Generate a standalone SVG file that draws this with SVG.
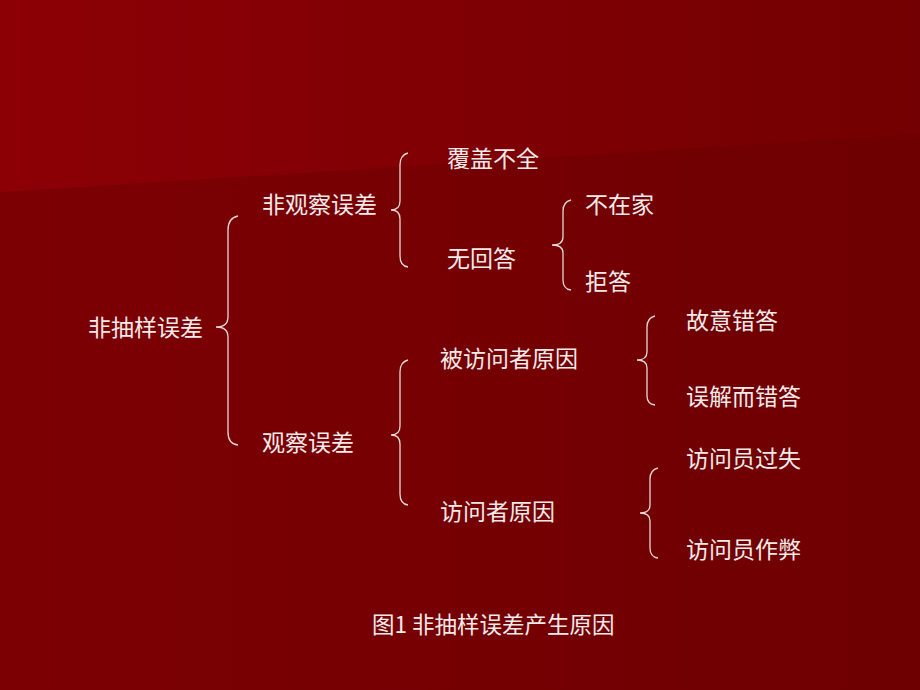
<svg xmlns="http://www.w3.org/2000/svg" width="920" height="690" viewBox="0 0 920 690">
<defs>
<linearGradient id="bg" x1="0" y1="0" x2="1" y2="0"><stop offset="0" stop-color="#7c0003"/><stop offset="1" stop-color="#6e0002"/></linearGradient>
<linearGradient id="tp" x1="0" y1="0" x2="1" y2="0"><stop offset="0" stop-color="#8c0005"/><stop offset="1" stop-color="#730002"/></linearGradient>
<style>
text{font-family:"Noto Sans CJK SC","Liberation Sans",sans-serif;font-size:23px;fill:#f4eaea}
.c{font-size:22.5px}
.b{fill:none;stroke:#e8d8d8;stroke-width:1.3}
</style>
</defs>
<rect width="920" height="690" fill="url(#bg)"/>
<polygon points="0,0 920,0 920,134 0,192" fill="url(#tp)"/>
<g id="connectors">
<path class="b" d="M238,216 Q228,218 228,230 L228,317 Q228,327 216,327 Q228,327 228,337 L228,432 Q228,444 238,445"/>
<path class="b" d="M408,153 Q400,155 400,165 L400,201 Q400,210 391,210 Q400,210 400,219 L400,256 Q400,266 408,267"/>
<path class="b" d="M571,200 Q563,202 563,211 L563,237 Q563,245 552,245 Q563,245 563,253 L563,280 Q563,289 571,290"/>
<path class="b" d="M408,360 Q400,362 400,372 L400,426 Q400,435 391,435 Q400,435 400,444 L400,494 Q400,504 408,505"/>
<path class="b" d="M655,316 Q647,318 647,327 L647,352 Q647,360 637,360 Q647,360 647,368 L647,396 Q647,404 655,405"/>
<path class="b" d="M658,468 Q650,470 650,479 L650,505 Q650,513 640,513 Q650,513 650,521 L650,548 Q650,557 658,558"/>
</g>
<g id="n1"><text x="88" y="336">非抽样误差</text></g>
<g id="n2"><text x="262" y="213">非观察误差</text></g>
<g id="n3"><text x="262" y="451">观察误差</text></g>
<g id="n4"><text x="447" y="167">覆盖不全</text></g>
<g id="n5"><text x="447" y="267">无回答</text></g>
<g id="n6"><text x="585" y="213">不在家</text></g>
<g id="n7"><text x="585" y="290">拒答</text></g>
<g id="n8"><text x="440" y="367">被访问者原因</text></g>
<g id="n9"><text x="440" y="520">访问者原因</text></g>
<g id="n10"><text x="686" y="329">故意错答</text></g>
<g id="n11"><text x="686" y="405">误解而错答</text></g>
<g id="n12"><text x="686" y="467">访问员过失</text></g>
<g id="n13"><text x="686" y="558">访问员作弊</text></g>
<g id="caption"><text class="c" x="372" y="633">图1 非抽样误差产生原因</text></g>
</svg>
